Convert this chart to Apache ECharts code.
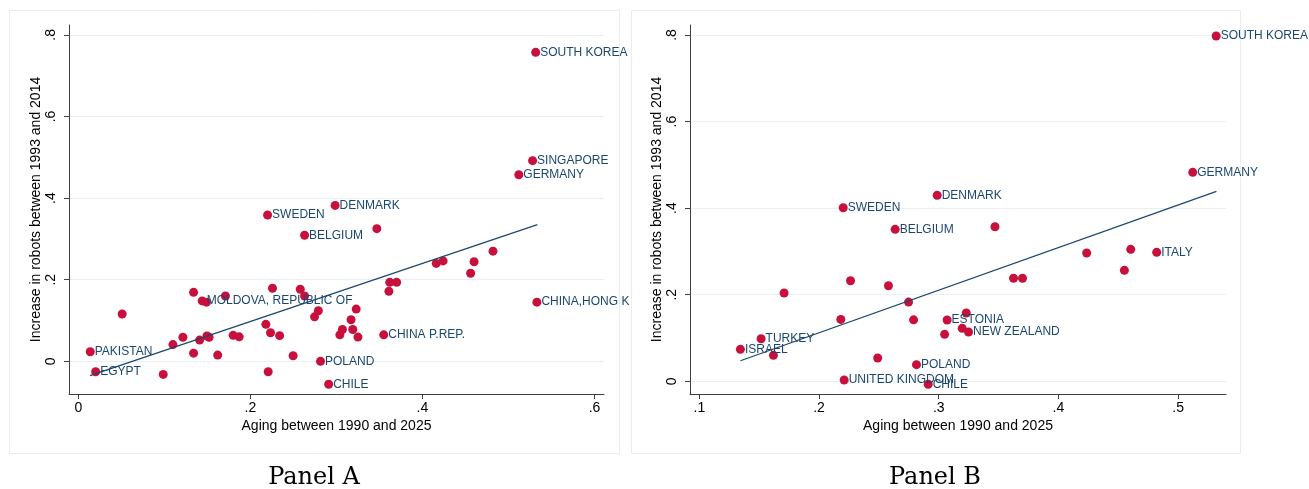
<!DOCTYPE html>
<html>
<head>
<meta charset="utf-8">
<script src="https://cdn.jsdelivr.net/npm/echarts@6/dist/echarts.min.js"></script>
<style>
html,body{margin:0;padding:0;background:#fff;}
#chart{width:1309px;height:489px;}
</style>
</head>
<body>
<div id="chart"></div>
<script>
// ---------- Panel A data ----------
const agingA = [0.0139,0.0202,0.051,0.0987,0.110,0.1216,0.134,0.134,0.141,0.144,0.149,0.1495,0.152,0.162,0.171,0.180,0.187,0.218,0.2207,0.2234,0.2257,0.234,0.2497,0.258,0.263,0.2746,0.279,0.2815,0.291,0.304,0.307,0.317,0.319,0.323,0.325,0.355,0.361,0.362,0.370,0.416,0.424,0.456,0.460,0.482,0.533,0.5316,0.528,0.512,0.2985,0.263,0.347,0.220];
const robotsA = [0.0235,-0.0255,0.116,-0.032,0.041,0.059,0.169,0.020,0.052,0.148,0.145,0.062,0.059,0.0154,0.160,0.0637,0.060,0.0907,-0.0255,0.070,0.179,0.063,0.0137,0.1765,0.160,0.109,0.124,0.0,-0.056,0.065,0.078,0.102,0.078,0.128,0.0595,0.065,0.1715,0.1935,0.1935,0.240,0.246,0.2157,0.244,0.270,0.145,0.757,0.4917,0.457,0.382,0.309,0.325,0.3586];
const labelsA = ['PAKISTAN','EGYPT','','','','','','','','MOLDOVA, REPUBLIC OF','','','','','','','','','','','','','','','','','','POLAND','CHILE','','','','','','','CHINA P.REP.','','','','','','','','','CHINA,HONG K','SOUTH KOREA','SINGAPORE','GERMANY','DENMARK','BELGIUM','','SWEDEN'];
const fitAx = [0.0136, 0.5336];
const fitAy = [-0.035, 0.335];
const xTicksA = [0, 0.2, 0.4, 0.6];
const yTicksA = [0, 0.2, 0.4, 0.6, 0.8];

// ---------- Panel B data ----------
const agingB = [0.2202,0.2636,0.2987,0.5318,0.5122,0.347,0.1343,0.1516,0.1619,0.1708,0.2182,0.221,0.2263,0.249,0.258,0.2748,0.279,0.2814,0.2912,0.3049,0.307,0.3196,0.323,0.3249,0.3625,0.370,0.4236,0.4604,0.4551,0.4821];
const robotsB = [0.401,0.351,0.4295,0.7975,0.4827,0.357,0.0739,0.0984,0.060,0.204,0.143,0.003,0.2323,0.0538,0.2208,0.183,0.142,0.0384,-0.0069,0.1085,0.1416,0.1224,0.1577,0.1139,0.238,0.238,0.2963,0.3048,0.2563,0.2979];
const labelsB = ['SWEDEN','BELGIUM','DENMARK','SOUTH KOREA','GERMANY','','ISRAEL','TURKEY','','','','UNITED KINGDOM','','','','','','POLAND','CHILE','','ESTONIA','','','NEW ZEALAND','','','','','','ITALY'];
const fitBx = [0.1343, 0.532];
const fitBy = [0.0476, 0.4388];
const xTicksB = [0.1, 0.2, 0.3, 0.4, 0.5];
const yTicksB = [0, 0.2, 0.4, 0.6, 0.8];

const xTitle = 'Aging between 1990 and 2025';
const yTitle = 'Increase in robots between 1993 and 2014';

const NAVY = '#1a476f';
const RED = '#c8103c';
const AXIS = '#404040';
const GRID = '#e8f0f2';
const FONT = '"Liberation Sans", Arial, Helvetica, sans-serif';

function fmt(v){ return v === 0 ? '0' : String(+v.toFixed(2)).replace(/^0/, '').replace(/^-0/, '-'); }

function pts(xs, ys, ls){ return xs.map((x,i)=>({value:[x, ys[i]], name: ls[i]})); }
function line(xs, ys){ return xs.map((x,i)=>[x, ys[i]]); }

function xAxisCfg(idx, min, max, ticks){
  return {
    type:'value', gridIndex: idx, min: min, max: max,
    name: xTitle, nameLocation:'middle', nameGap: 25, nameMoveOverlap: false,
    nameTextStyle:{color:'#000', fontSize:14, fontFamily: FONT},
    axisLine:{show:true, onZero:false, lineStyle:{color:AXIS, width:1}},
    axisTick:{show:true, length:5, inside:false, customValues: ticks, lineStyle:{color:AXIS}},
    axisLabel:{show:true, customValues: ticks, margin:7, color:'#000', fontSize:14, fontFamily:FONT, formatter: fmt},
    splitLine:{show:false}
  };
}
function yAxisCfg(idx, min, max, ticks){
  return {
    type:'value', gridIndex: idx, min: min, max: max,
    name: yTitle, nameLocation:'middle', nameGap: 26, nameRotate: 90, nameMoveOverlap: false,
    nameTextStyle:{color:'#000', fontSize:14, fontFamily: FONT},
    axisLine:{show:true, onZero:false, lineStyle:{color:AXIS, width:1}},
    axisTick:{show:true, length:5, inside:false, customValues: ticks, lineStyle:{color:AXIS}},
    axisLabel:{show:true, customValues: ticks, rotate:90, margin:11, color:'#000', fontSize:14, fontFamily:FONT, formatter: fmt},
    splitLine:{show:true, lineStyle:{color:GRID, width:1}}
  };
}
function scatterCfg(idx, data){
  return {
    type:'scatter', xAxisIndex: idx, yAxisIndex: idx, data: data,
    symbolSize: 9, itemStyle:{color: RED, opacity:1}, z: 3, clip:false,
    label:{show:true, position:'right', distance:0, color: NAVY, fontSize:12, fontFamily:FONT,
      formatter: p => p.name || ''},
    emphasis:{disabled:true}, silent:true
  };
}
function fitCfg(idx, data){
  return {
    type:'line', xAxisIndex: idx, yAxisIndex: idx, data: data, symbol:'none',
    lineStyle:{color: NAVY, width:1.2}, z: 4, silent:true, animation:false
  };
}

const chart = echarts.init(document.getElementById('chart'), null, {renderer:'canvas'});
chart.setOption({
  animation:false,
  backgroundColor:'#fff',
  textStyle:{fontFamily: FONT},
  title:[
    {text:'Panel A', left:314, top:466, textAlign:'center', padding:0,
     textStyle:{fontFamily:'"DejaVu Serif", serif', fontWeight:'normal', fontSize:24, color:'#000'}},
    {text:'Panel B', left:935, top:466, textAlign:'center', padding:0,
     textStyle:{fontFamily:'"DejaVu Serif", serif', fontWeight:'normal', fontSize:24, color:'#000'}}
  ],
  graphic:[
    {type:'rect', shape:{x:9.5, y:10.5, width:610, height:443}, style:{fill:'none', stroke:'#e6eef0', lineWidth:1}, silent:true, z:-10},
    {type:'rect', shape:{x:631.5, y:10.5, width:609, height:443}, style:{fill:'none', stroke:'#e6eef0', lineWidth:1}, silent:true, z:-10}
  ],
  grid:[
    {left:69, top:25, width:535, height:369, outerBoundsMode:'none', containLabel:false},
    {left:690, top:25, width:536, height:369, outerBoundsMode:'none', containLabel:false}
  ],
  xAxis:[ xAxisCfg(0, -0.0108, 0.611, xTicksA), xAxisCfg(1, 0.0922, 0.540, xTicksB) ],
  yAxis:[ yAxisCfg(0, -0.080, 0.824, yTicksA), yAxisCfg(1, -0.0293, 0.823, yTicksB) ],
  series:[
    scatterCfg(0, pts(agingA, robotsA, labelsA)),
    fitCfg(0, line(fitAx, fitAy)),
    scatterCfg(1, pts(agingB, robotsB, labelsB)),
    fitCfg(1, line(fitBx, fitBy))
  ]
});
</script>
</body>
</html>
